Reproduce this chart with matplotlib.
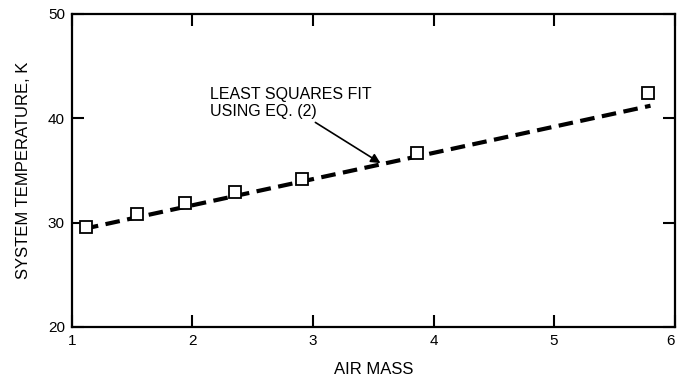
import matplotlib
matplotlib.use("Agg")
import matplotlib.pyplot as plt
from matplotlib.transforms import ScaledTranslation

air_mass = [1.12, 1.54, 1.94, 2.35, 2.91, 3.86, 5.78]
sys_temp = [29.6, 30.8, 31.9, 32.9, 34.2, 36.7, 42.4]
fit_x = [1.1, 5.8]
fit_y = [29.4, 41.2]
x_ticks = [1, 2, 3, 4, 5, 6]
y_ticks = [20, 30, 40, 50]

plt.rcParams['font.family'] = ['Liberation Sans', 'DejaVu Sans']

fig = plt.figure(figsize=(6.78, 3.86), dpi=100)
ax = fig.add_axes([0.106, 0.153, 0.889, 0.811])

ax.plot(fit_x, fit_y, color='black', lw=3, dashes=(3.5, 1.8), zorder=2)
ax.plot(air_mass, sys_temp, linestyle='none', marker='s', markersize=8.5,
        markerfacecolor='white', markeredgecolor='black', markeredgewidth=1.3, zorder=3)

ax.set_xlim(1, 6)
ax.set_ylim(20, 50)
ax.set_xticks(x_ticks)
ax.set_yticks(y_ticks)
ax.tick_params(direction='in', length=8.5, width=1.5, top=True, right=True,
               labelsize=11, pad=5)
for s in ax.spines.values():
    s.set_linewidth(1.6)

# nudge the last x tick label so it stays inside the figure
last = ax.get_xticklabels()[-1]
last.set_transform(last.get_transform() + ScaledTranslation(-4 / 100, 0, fig.dpi_scale_trans))

ax.set_xlabel('AIR MASS', fontsize=12, labelpad=10)
ax.set_ylabel('SYSTEM TEMPERATURE, K', fontsize=12, labelpad=12)

ax.text(2.15, 43.0, 'LEAST SQUARES FIT\nUSING EQ. (2)', fontsize=11.5,
        va='top', ha='left', linespacing=1.2)
ax.annotate('', xy=(3.56, 35.7), xytext=(3.02, 39.6),
            arrowprops=dict(arrowstyle='-|>', lw=1.2, color='black',
                            mutation_scale=14, shrinkA=0, shrinkB=0))

fig.savefig('out.png', dpi=100)
